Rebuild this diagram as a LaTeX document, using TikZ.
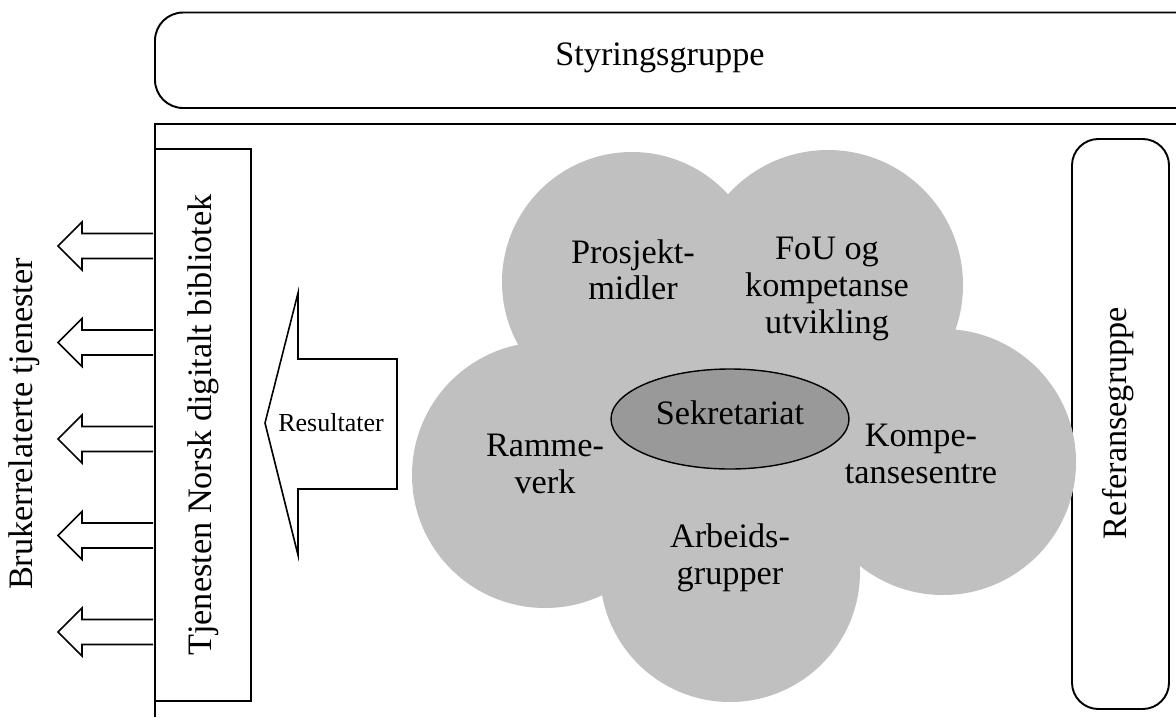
\documentclass[tikz,border=0pt]{standalone}
\usepackage{fontspec}
\setmainfont{Liberation Serif}
\usepackage{tikz}
\usepackage{xcolor}

\definecolor{cloudgray}{RGB}{192,192,192}
\definecolor{secgray}{RGB}{153,153,153}

\begin{document}
\begin{tikzpicture}[x=0.02cm,y=-0.02cm,
    lbl/.style={font=\fontsize{19.5}{20.8}\selectfont,align=center,inner sep=0pt},
    smalllbl/.style={font=\fontsize{14.8}{16}\selectfont,inner sep=0pt},
    frameline/.style={line width=1.1pt},
    outarrow/.style={line width=0.9pt,line join=miter}]
    \useasboundingbox (0,0) rectangle (1176,717);

    % Styringsgruppe
    \draw [frameline,rounded corners=16] (1176,12.5) -| (155,108) -- (1176,108);
    \node [lbl] (styring) at (660,58) {Styringsgruppe};

    % Outer frame
    \draw [frameline] (1176,124) -- (155,124) -- (155,717);

    % Tjenesten box
    \draw [frameline] (155,149) rectangle (251,701);
    \node [lbl,rotate=90] (tjenesten) at (203,425) {Tjenesten Norsk digitalt bibliotek};

    % Referansegruppe
    \draw [frameline,rounded corners=15] (1072,139) rectangle (1169,709);
    \node [lbl,rotate=90] (referanse) at (1118,423) {Referansegruppe};

    % Output arrows
    \draw [outarrow] (153,233.5) -- (82,233.5) -- (82,222) -- (58,246)
        -- (82,270) -- (82,258.5) -- (153,258.5);
    \draw [outarrow] (153,330) -- (82,330) -- (82,318.5) -- (58,342.5)
        -- (82,366.5) -- (82,355) -- (153,355);
    \draw [outarrow] (153,426.5) -- (82,426.5) -- (82,415) -- (58,439)
        -- (82,463) -- (82,451.5) -- (153,451.5);
    \draw [outarrow] (153,523) -- (82,523) -- (82,511.5) -- (58,535.5)
        -- (82,559.5) -- (82,548) -- (153,548);
    \draw [outarrow] (153,619.5) -- (82,619.5) -- (82,608) -- (58,632)
        -- (82,656) -- (82,644.5) -- (153,644.5);
    \node [lbl,rotate=90] (bruker) at (24,424) {Brukerrelaterte tjenester};

    % Resultater arrow
    \draw [outarrow] (397,359) -- (298,359) -- (298,293) -- (265,423)
        -- (298,555) -- (298,489) -- (397,489) -- cycle;
    \node [smalllbl] (resultater) at (331,423) {Resultater};

    % Cloud
    \fill [cloudgray] (740,430) circle [radius=160];
    \fill [cloudgray] (632,282) circle [radius=130];
    \fill [cloudgray] (828,285) circle [radius=135];
    \fill [cloudgray] (943,462) circle [radius=133];
    \fill [cloudgray] (545,475) circle [radius=133];
    \fill [cloudgray] (730,572) circle [radius=130];

    % Sekretariat
    \draw [line width=0.8pt,fill=secgray] (730,419) ellipse [x radius=119,y radius=50];
    \node [lbl] (sekretariat) at (730,413) {Sekretariat};

    % Cloud labels
    \node [lbl] (prosjekt) at (633,270) {Prosjekt-\\midler};
    \node [lbl] (fou) at (827,289) {FoU og\\kompetanse\\utvikling};
    \node [lbl] (ramme) at (545,464) {Ramme-\\verk};
    \node [lbl] (arbeid) at (730,558) {Arbeids-\\grupper};
    \node [lbl] (kompe) at (921,454) {Kompe-\\tansesentre};
\end{tikzpicture}
\end{document}
